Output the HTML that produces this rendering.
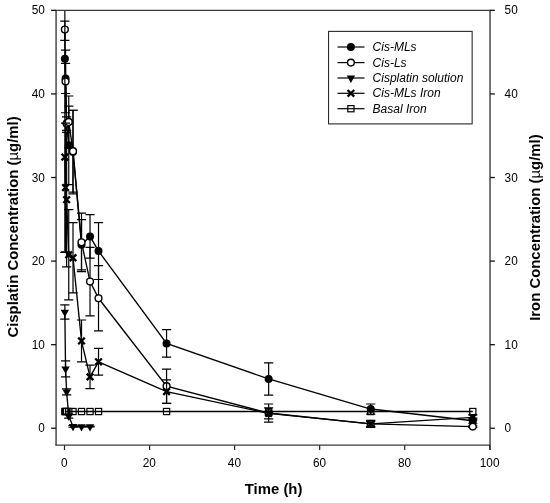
<!DOCTYPE html>
<html><head><meta charset="utf-8"><title>Chart</title>
<style>
html,body{margin:0;padding:0;background:#fff;}
svg{display:block;}
text{font-family:"Liberation Sans",sans-serif;fill:#000;}
.tk{font-size:12.2px;}
.ttl{font-size:14.9px;font-weight:bold;}
.ttl2{font-size:14.9px;font-weight:bold;}
.mu{font-weight:normal;}
.lg{font-size:12px;font-style:italic;}
</style></head><body>
<svg width="550" height="503" viewBox="0 0 550 503">
<defs><clipPath id="pc"><rect x="56.1" y="10.35" width="433.95" height="434.84999999999997"/></clipPath></defs>
<rect width="550" height="503" fill="#fff"/>
<g clip-path="url(#pc)">
<polyline points="64.85,58.83 65.56,78.47 66.63,123.60 68.75,145.33 73.01,152.02 81.51,244.79 90.02,236.43 98.52,251.06 166.57,343.42 268.64,378.94 370.72,409.03 472.79,420.73" fill="none" stroke="#000" stroke-width="1.35"/>
<line x1="65.56" y1="63.42" x2="65.56" y2="93.51" stroke="#000" stroke-width="1.2"/>
<line x1="60.96" y1="63.42" x2="70.16" y2="63.42" stroke="#000" stroke-width="1.2"/>
<line x1="60.96" y1="93.51" x2="70.16" y2="93.51" stroke="#000" stroke-width="1.2"/>
<line x1="66.63" y1="116.91" x2="66.63" y2="130.29" stroke="#000" stroke-width="1.2"/>
<line x1="62.03" y1="116.91" x2="71.23" y2="116.91" stroke="#000" stroke-width="1.2"/>
<line x1="62.03" y1="130.29" x2="71.23" y2="130.29" stroke="#000" stroke-width="1.2"/>
<line x1="68.75" y1="106.05" x2="68.75" y2="184.61" stroke="#000" stroke-width="1.2"/>
<line x1="64.15" y1="106.05" x2="73.35" y2="106.05" stroke="#000" stroke-width="1.2"/>
<line x1="64.15" y1="184.61" x2="73.35" y2="184.61" stroke="#000" stroke-width="1.2"/>
<line x1="73.01" y1="110.23" x2="73.01" y2="193.81" stroke="#000" stroke-width="1.2"/>
<line x1="68.41" y1="110.23" x2="77.61" y2="110.23" stroke="#000" stroke-width="1.2"/>
<line x1="68.41" y1="193.81" x2="77.61" y2="193.81" stroke="#000" stroke-width="1.2"/>
<line x1="81.51" y1="219.72" x2="81.51" y2="269.87" stroke="#000" stroke-width="1.2"/>
<line x1="76.91" y1="219.72" x2="86.11" y2="219.72" stroke="#000" stroke-width="1.2"/>
<line x1="76.91" y1="269.87" x2="86.11" y2="269.87" stroke="#000" stroke-width="1.2"/>
<line x1="90.02" y1="214.70" x2="90.02" y2="258.16" stroke="#000" stroke-width="1.2"/>
<line x1="85.42" y1="214.70" x2="94.62" y2="214.70" stroke="#000" stroke-width="1.2"/>
<line x1="85.42" y1="258.16" x2="94.62" y2="258.16" stroke="#000" stroke-width="1.2"/>
<line x1="98.52" y1="222.64" x2="98.52" y2="279.48" stroke="#000" stroke-width="1.2"/>
<line x1="93.92" y1="222.64" x2="103.12" y2="222.64" stroke="#000" stroke-width="1.2"/>
<line x1="93.92" y1="279.48" x2="103.12" y2="279.48" stroke="#000" stroke-width="1.2"/>
<line x1="166.57" y1="329.63" x2="166.57" y2="357.21" stroke="#000" stroke-width="1.2"/>
<line x1="161.97" y1="329.63" x2="171.17" y2="329.63" stroke="#000" stroke-width="1.2"/>
<line x1="161.97" y1="357.21" x2="171.17" y2="357.21" stroke="#000" stroke-width="1.2"/>
<line x1="268.64" y1="362.81" x2="268.64" y2="395.07" stroke="#000" stroke-width="1.2"/>
<line x1="264.04" y1="362.81" x2="273.24" y2="362.81" stroke="#000" stroke-width="1.2"/>
<line x1="264.04" y1="395.07" x2="273.24" y2="395.07" stroke="#000" stroke-width="1.2"/>
<line x1="370.72" y1="404.01" x2="370.72" y2="414.04" stroke="#000" stroke-width="1.2"/>
<line x1="366.12" y1="404.01" x2="375.32" y2="404.01" stroke="#000" stroke-width="1.2"/>
<line x1="366.12" y1="414.04" x2="375.32" y2="414.04" stroke="#000" stroke-width="1.2"/>
<line x1="472.79" y1="418.22" x2="472.79" y2="423.24" stroke="#000" stroke-width="1.2"/>
<line x1="468.19" y1="418.22" x2="477.39" y2="418.22" stroke="#000" stroke-width="1.2"/>
<line x1="468.19" y1="423.24" x2="477.39" y2="423.24" stroke="#000" stroke-width="1.2"/>
<circle cx="64.85" cy="58.83" r="4.0" fill="#000"/>
<circle cx="65.56" cy="78.47" r="4.0" fill="#000"/>
<circle cx="66.63" cy="123.60" r="4.0" fill="#000"/>
<circle cx="68.75" cy="145.33" r="4.0" fill="#000"/>
<circle cx="73.01" cy="152.02" r="4.0" fill="#000"/>
<circle cx="81.51" cy="244.79" r="4.0" fill="#000"/>
<circle cx="90.02" cy="236.43" r="4.0" fill="#000"/>
<circle cx="98.52" cy="251.06" r="4.0" fill="#000"/>
<circle cx="166.57" cy="343.42" r="4.0" fill="#000"/>
<circle cx="268.64" cy="378.94" r="4.0" fill="#000"/>
<circle cx="370.72" cy="409.03" r="4.0" fill="#000"/>
<circle cx="472.79" cy="420.73" r="4.0" fill="#000"/>
<polyline points="64.85,29.57 65.56,81.39 66.63,123.60 68.75,121.93 73.01,151.18 81.51,242.28 90.02,281.57 98.52,298.28 166.57,386.21 268.64,413.04 370.72,423.90 472.79,426.58" fill="none" stroke="#000" stroke-width="1.35"/>
<line x1="64.85" y1="21.05" x2="64.85" y2="40.44" stroke="#000" stroke-width="1.2"/>
<line x1="60.25" y1="21.05" x2="69.45" y2="21.05" stroke="#000" stroke-width="1.2"/>
<line x1="60.25" y1="40.44" x2="69.45" y2="40.44" stroke="#000" stroke-width="1.2"/>
<line x1="65.56" y1="50.05" x2="65.56" y2="112.74" stroke="#000" stroke-width="1.2"/>
<line x1="60.96" y1="50.05" x2="70.16" y2="50.05" stroke="#000" stroke-width="1.2"/>
<line x1="60.96" y1="112.74" x2="70.16" y2="112.74" stroke="#000" stroke-width="1.2"/>
<line x1="68.75" y1="96.02" x2="68.75" y2="147.84" stroke="#000" stroke-width="1.2"/>
<line x1="64.15" y1="96.02" x2="73.35" y2="96.02" stroke="#000" stroke-width="1.2"/>
<line x1="64.15" y1="147.84" x2="73.35" y2="147.84" stroke="#000" stroke-width="1.2"/>
<line x1="73.01" y1="110.23" x2="73.01" y2="192.14" stroke="#000" stroke-width="1.2"/>
<line x1="68.41" y1="110.23" x2="77.61" y2="110.23" stroke="#000" stroke-width="1.2"/>
<line x1="68.41" y1="192.14" x2="77.61" y2="192.14" stroke="#000" stroke-width="1.2"/>
<line x1="81.51" y1="213.03" x2="81.51" y2="271.54" stroke="#000" stroke-width="1.2"/>
<line x1="76.91" y1="213.03" x2="86.11" y2="213.03" stroke="#000" stroke-width="1.2"/>
<line x1="76.91" y1="271.54" x2="86.11" y2="271.54" stroke="#000" stroke-width="1.2"/>
<line x1="90.02" y1="247.30" x2="90.02" y2="315.83" stroke="#000" stroke-width="1.2"/>
<line x1="85.42" y1="247.30" x2="94.62" y2="247.30" stroke="#000" stroke-width="1.2"/>
<line x1="85.42" y1="315.83" x2="94.62" y2="315.83" stroke="#000" stroke-width="1.2"/>
<line x1="98.52" y1="265.69" x2="98.52" y2="330.88" stroke="#000" stroke-width="1.2"/>
<line x1="93.92" y1="265.69" x2="103.12" y2="265.69" stroke="#000" stroke-width="1.2"/>
<line x1="93.92" y1="330.88" x2="103.12" y2="330.88" stroke="#000" stroke-width="1.2"/>
<line x1="166.57" y1="369.08" x2="166.57" y2="403.34" stroke="#000" stroke-width="1.2"/>
<line x1="161.97" y1="369.08" x2="171.17" y2="369.08" stroke="#000" stroke-width="1.2"/>
<line x1="161.97" y1="403.34" x2="171.17" y2="403.34" stroke="#000" stroke-width="1.2"/>
<line x1="268.64" y1="404.01" x2="268.64" y2="422.07" stroke="#000" stroke-width="1.2"/>
<line x1="264.04" y1="404.01" x2="273.24" y2="404.01" stroke="#000" stroke-width="1.2"/>
<line x1="264.04" y1="422.07" x2="273.24" y2="422.07" stroke="#000" stroke-width="1.2"/>
<line x1="370.72" y1="421.40" x2="370.72" y2="426.41" stroke="#000" stroke-width="1.2"/>
<line x1="366.12" y1="421.40" x2="375.32" y2="421.40" stroke="#000" stroke-width="1.2"/>
<line x1="366.12" y1="426.41" x2="375.32" y2="426.41" stroke="#000" stroke-width="1.2"/>
<line x1="472.79" y1="425.74" x2="472.79" y2="427.41" stroke="#000" stroke-width="1.2"/>
<line x1="468.19" y1="425.74" x2="477.39" y2="425.74" stroke="#000" stroke-width="1.2"/>
<line x1="468.19" y1="427.41" x2="477.39" y2="427.41" stroke="#000" stroke-width="1.2"/>
<circle cx="64.85" cy="29.57" r="3.4" fill="#fff" stroke="#000" stroke-width="1.4"/>
<circle cx="65.56" cy="81.39" r="3.4" fill="#fff" stroke="#000" stroke-width="1.4"/>
<circle cx="66.63" cy="123.60" r="3.4" fill="#fff" stroke="#000" stroke-width="1.4"/>
<circle cx="68.75" cy="121.93" r="3.4" fill="#fff" stroke="#000" stroke-width="1.4"/>
<circle cx="73.01" cy="151.18" r="3.4" fill="#fff" stroke="#000" stroke-width="1.4"/>
<circle cx="81.51" cy="242.28" r="3.4" fill="#fff" stroke="#000" stroke-width="1.4"/>
<circle cx="90.02" cy="281.57" r="3.4" fill="#fff" stroke="#000" stroke-width="1.4"/>
<circle cx="98.52" cy="298.28" r="3.4" fill="#fff" stroke="#000" stroke-width="1.4"/>
<circle cx="166.57" cy="386.21" r="3.4" fill="#fff" stroke="#000" stroke-width="1.4"/>
<circle cx="268.64" cy="413.04" r="3.4" fill="#fff" stroke="#000" stroke-width="1.4"/>
<circle cx="370.72" cy="423.90" r="3.4" fill="#fff" stroke="#000" stroke-width="1.4"/>
<circle cx="472.79" cy="426.58" r="3.4" fill="#fff" stroke="#000" stroke-width="1.4"/>
<polyline points="64.85,312.07 65.56,368.91 66.63,391.89 68.75,416.13 73.01,426.41 81.51,426.58 90.02,426.58" fill="none" stroke="#000" stroke-width="1.35"/>
<line x1="64.85" y1="304.97" x2="64.85" y2="319.18" stroke="#000" stroke-width="1.2"/>
<line x1="60.25" y1="304.97" x2="69.45" y2="304.97" stroke="#000" stroke-width="1.2"/>
<line x1="60.25" y1="319.18" x2="69.45" y2="319.18" stroke="#000" stroke-width="1.2"/>
<line x1="65.56" y1="360.97" x2="65.56" y2="376.85" stroke="#000" stroke-width="1.2"/>
<line x1="60.96" y1="360.97" x2="70.16" y2="360.97" stroke="#000" stroke-width="1.2"/>
<line x1="60.96" y1="376.85" x2="70.16" y2="376.85" stroke="#000" stroke-width="1.2"/>
<line x1="66.63" y1="388.97" x2="66.63" y2="394.82" stroke="#000" stroke-width="1.2"/>
<line x1="62.03" y1="388.97" x2="71.23" y2="388.97" stroke="#000" stroke-width="1.2"/>
<line x1="62.03" y1="394.82" x2="71.23" y2="394.82" stroke="#000" stroke-width="1.2"/>
<line x1="68.75" y1="414.04" x2="68.75" y2="418.22" stroke="#000" stroke-width="1.2"/>
<line x1="64.15" y1="414.04" x2="73.35" y2="414.04" stroke="#000" stroke-width="1.2"/>
<line x1="64.15" y1="418.22" x2="73.35" y2="418.22" stroke="#000" stroke-width="1.2"/>
<line x1="73.01" y1="425.58" x2="73.01" y2="427.25" stroke="#000" stroke-width="1.2"/>
<line x1="68.41" y1="425.58" x2="77.61" y2="425.58" stroke="#000" stroke-width="1.2"/>
<line x1="68.41" y1="427.25" x2="77.61" y2="427.25" stroke="#000" stroke-width="1.2"/>
<line x1="81.51" y1="426.16" x2="81.51" y2="427.00" stroke="#000" stroke-width="1.2"/>
<line x1="76.91" y1="426.16" x2="86.11" y2="426.16" stroke="#000" stroke-width="1.2"/>
<line x1="76.91" y1="427.00" x2="86.11" y2="427.00" stroke="#000" stroke-width="1.2"/>
<line x1="90.02" y1="426.16" x2="90.02" y2="427.00" stroke="#000" stroke-width="1.2"/>
<line x1="85.42" y1="426.16" x2="94.62" y2="426.16" stroke="#000" stroke-width="1.2"/>
<line x1="85.42" y1="427.00" x2="94.62" y2="427.00" stroke="#000" stroke-width="1.2"/>
<polygon points="60.65,309.67 69.05,309.67 64.85,316.97" fill="#000"/>
<polygon points="61.36,366.51 69.76,366.51 65.56,373.81" fill="#000"/>
<polygon points="62.43,389.49 70.83,389.49 66.63,396.79" fill="#000"/>
<polygon points="64.55,413.73 72.95,413.73 68.75,421.03" fill="#000"/>
<polygon points="68.81,424.01 77.21,424.01 73.01,431.31" fill="#000"/>
<polygon points="77.31,424.18 85.71,424.18 81.51,431.48" fill="#000"/>
<polygon points="85.82,424.18 94.22,424.18 90.02,431.48" fill="#000"/>
<polyline points="64.85,157.03 65.56,187.54 66.63,199.66 68.75,254.82 73.01,257.75 81.51,340.91 90.02,376.85 98.52,361.80 166.57,391.64 268.64,413.37 370.72,423.90 472.79,417.38" fill="none" stroke="#000" stroke-width="1.35"/>
<line x1="64.85" y1="6.59" x2="64.85" y2="252.31" stroke="#000" stroke-width="1.2"/>
<line x1="60.25" y1="6.59" x2="69.45" y2="6.59" stroke="#000" stroke-width="1.2"/>
<line x1="60.25" y1="252.31" x2="69.45" y2="252.31" stroke="#000" stroke-width="1.2"/>
<line x1="65.56" y1="123.18" x2="65.56" y2="251.90" stroke="#000" stroke-width="1.2"/>
<line x1="60.96" y1="123.18" x2="70.16" y2="123.18" stroke="#000" stroke-width="1.2"/>
<line x1="60.96" y1="251.90" x2="70.16" y2="251.90" stroke="#000" stroke-width="1.2"/>
<line x1="66.63" y1="132.38" x2="66.63" y2="266.94" stroke="#000" stroke-width="1.2"/>
<line x1="62.03" y1="132.38" x2="71.23" y2="132.38" stroke="#000" stroke-width="1.2"/>
<line x1="62.03" y1="266.94" x2="71.23" y2="266.94" stroke="#000" stroke-width="1.2"/>
<line x1="68.75" y1="209.69" x2="68.75" y2="299.95" stroke="#000" stroke-width="1.2"/>
<line x1="64.15" y1="209.69" x2="73.35" y2="209.69" stroke="#000" stroke-width="1.2"/>
<line x1="64.15" y1="299.95" x2="73.35" y2="299.95" stroke="#000" stroke-width="1.2"/>
<line x1="73.01" y1="222.64" x2="73.01" y2="292.85" stroke="#000" stroke-width="1.2"/>
<line x1="68.41" y1="222.64" x2="77.61" y2="222.64" stroke="#000" stroke-width="1.2"/>
<line x1="68.41" y1="292.85" x2="77.61" y2="292.85" stroke="#000" stroke-width="1.2"/>
<line x1="81.51" y1="320.01" x2="81.51" y2="361.80" stroke="#000" stroke-width="1.2"/>
<line x1="76.91" y1="320.01" x2="86.11" y2="320.01" stroke="#000" stroke-width="1.2"/>
<line x1="76.91" y1="361.80" x2="86.11" y2="361.80" stroke="#000" stroke-width="1.2"/>
<line x1="90.02" y1="365.15" x2="90.02" y2="388.55" stroke="#000" stroke-width="1.2"/>
<line x1="85.42" y1="365.15" x2="94.62" y2="365.15" stroke="#000" stroke-width="1.2"/>
<line x1="85.42" y1="388.55" x2="94.62" y2="388.55" stroke="#000" stroke-width="1.2"/>
<line x1="98.52" y1="348.43" x2="98.52" y2="375.18" stroke="#000" stroke-width="1.2"/>
<line x1="93.92" y1="348.43" x2="103.12" y2="348.43" stroke="#000" stroke-width="1.2"/>
<line x1="93.92" y1="375.18" x2="103.12" y2="375.18" stroke="#000" stroke-width="1.2"/>
<line x1="166.57" y1="379.94" x2="166.57" y2="403.34" stroke="#000" stroke-width="1.2"/>
<line x1="161.97" y1="379.94" x2="171.17" y2="379.94" stroke="#000" stroke-width="1.2"/>
<line x1="161.97" y1="403.34" x2="171.17" y2="403.34" stroke="#000" stroke-width="1.2"/>
<line x1="268.64" y1="407.94" x2="268.64" y2="418.81" stroke="#000" stroke-width="1.2"/>
<line x1="264.04" y1="407.94" x2="273.24" y2="407.94" stroke="#000" stroke-width="1.2"/>
<line x1="264.04" y1="418.81" x2="273.24" y2="418.81" stroke="#000" stroke-width="1.2"/>
<line x1="370.72" y1="420.39" x2="370.72" y2="427.41" stroke="#000" stroke-width="1.2"/>
<line x1="366.12" y1="420.39" x2="375.32" y2="420.39" stroke="#000" stroke-width="1.2"/>
<line x1="366.12" y1="427.41" x2="375.32" y2="427.41" stroke="#000" stroke-width="1.2"/>
<line x1="472.79" y1="414.88" x2="472.79" y2="419.89" stroke="#000" stroke-width="1.2"/>
<line x1="468.19" y1="414.88" x2="477.39" y2="414.88" stroke="#000" stroke-width="1.2"/>
<line x1="468.19" y1="419.89" x2="477.39" y2="419.89" stroke="#000" stroke-width="1.2"/>
<path d="M61.55 153.73L68.15 160.33M61.55 160.33L68.15 153.73" stroke="#000" stroke-width="2.35" fill="none"/>
<path d="M62.26 184.24L68.86 190.84M62.26 190.84L68.86 184.24" stroke="#000" stroke-width="2.35" fill="none"/>
<path d="M63.33 196.36L69.93 202.96M63.33 202.96L69.93 196.36" stroke="#000" stroke-width="2.35" fill="none"/>
<path d="M65.45 251.52L72.05 258.12M65.45 258.12L72.05 251.52" stroke="#000" stroke-width="2.35" fill="none"/>
<path d="M69.71 254.45L76.31 261.05M69.71 261.05L76.31 254.45" stroke="#000" stroke-width="2.35" fill="none"/>
<path d="M78.21 337.61L84.81 344.21M78.21 344.21L84.81 337.61" stroke="#000" stroke-width="2.35" fill="none"/>
<path d="M86.72 373.55L93.32 380.15M86.72 380.15L93.32 373.55" stroke="#000" stroke-width="2.35" fill="none"/>
<path d="M95.22 358.50L101.82 365.10M95.22 365.10L101.82 358.50" stroke="#000" stroke-width="2.35" fill="none"/>
<path d="M163.27 388.34L169.87 394.94M163.27 394.94L169.87 388.34" stroke="#000" stroke-width="2.35" fill="none"/>
<path d="M265.34 410.07L271.94 416.67M265.34 416.67L271.94 410.07" stroke="#000" stroke-width="2.35" fill="none"/>
<path d="M367.42 420.60L374.02 427.20M367.42 427.20L374.02 420.60" stroke="#000" stroke-width="2.35" fill="none"/>
<path d="M469.49 414.08L476.09 420.68M469.49 420.68L476.09 414.08" stroke="#000" stroke-width="2.35" fill="none"/>
<polyline points="64.85,411.53 65.56,411.53 66.63,411.53 68.75,411.53 73.01,411.53 81.51,411.53 90.02,411.53 98.52,411.53 166.57,411.53 268.64,411.53 370.72,411.53 472.79,411.53" fill="none" stroke="#000" stroke-width="1.35"/>
<rect x="61.75" y="408.43" width="6.2" height="6.2" fill="none" stroke="#000" stroke-width="1.2"/>
<rect x="62.46" y="408.43" width="6.2" height="6.2" fill="none" stroke="#000" stroke-width="1.2"/>
<rect x="63.53" y="408.43" width="6.2" height="6.2" fill="none" stroke="#000" stroke-width="1.2"/>
<rect x="65.65" y="408.43" width="6.2" height="6.2" fill="none" stroke="#000" stroke-width="1.2"/>
<rect x="69.91" y="408.43" width="6.2" height="6.2" fill="none" stroke="#000" stroke-width="1.2"/>
<rect x="78.41" y="408.43" width="6.2" height="6.2" fill="none" stroke="#000" stroke-width="1.2"/>
<rect x="86.92" y="408.43" width="6.2" height="6.2" fill="none" stroke="#000" stroke-width="1.2"/>
<rect x="95.42" y="408.43" width="6.2" height="6.2" fill="none" stroke="#000" stroke-width="1.2"/>
<rect x="163.47" y="408.43" width="6.2" height="6.2" fill="none" stroke="#000" stroke-width="1.2"/>
<rect x="265.54" y="408.43" width="6.2" height="6.2" fill="none" stroke="#000" stroke-width="1.2"/>
<rect x="367.62" y="408.43" width="6.2" height="6.2" fill="none" stroke="#000" stroke-width="1.2"/>
<rect x="469.69" y="408.43" width="6.2" height="6.2" fill="none" stroke="#000" stroke-width="1.2"/>
</g>
<line x1="56.10" y1="10.35" x2="56.10" y2="445.20" stroke="#686868" stroke-width="1.8"/>
<line x1="490.05" y1="10.35" x2="490.05" y2="450.00" stroke="#686868" stroke-width="1.8"/>
<line x1="55.30" y1="10.35" x2="490.85" y2="10.35" stroke="#3a3a3a" stroke-width="1.1"/>
<line x1="55.30" y1="445.10" x2="490.05" y2="445.10" stroke="#3a3a3a" stroke-width="1.2"/>
<line x1="51.10" y1="428.25" x2="56.10" y2="428.25" stroke="#111" stroke-width="1.3"/>
<line x1="490.05" y1="428.25" x2="494.85" y2="428.25" stroke="#111" stroke-width="1.3"/>
<text transform="translate(44.9,432.25) scale(0.97,1)" text-anchor="end" class="tk">0</text>
<text transform="translate(504.6,432.25) scale(0.97,1)" text-anchor="start" class="tk">0</text>
<line x1="51.10" y1="344.67" x2="56.10" y2="344.67" stroke="#111" stroke-width="1.3"/>
<line x1="490.05" y1="344.67" x2="494.85" y2="344.67" stroke="#111" stroke-width="1.3"/>
<text transform="translate(44.9,348.67) scale(0.97,1)" text-anchor="end" class="tk">10</text>
<text transform="translate(504.6,348.67) scale(0.97,1)" text-anchor="start" class="tk">10</text>
<line x1="51.10" y1="261.09" x2="56.10" y2="261.09" stroke="#111" stroke-width="1.3"/>
<line x1="490.05" y1="261.09" x2="494.85" y2="261.09" stroke="#111" stroke-width="1.3"/>
<text transform="translate(44.9,265.09) scale(0.97,1)" text-anchor="end" class="tk">20</text>
<text transform="translate(504.6,265.09) scale(0.97,1)" text-anchor="start" class="tk">20</text>
<line x1="51.10" y1="177.51" x2="56.10" y2="177.51" stroke="#111" stroke-width="1.3"/>
<line x1="490.05" y1="177.51" x2="494.85" y2="177.51" stroke="#111" stroke-width="1.3"/>
<text transform="translate(44.9,181.51) scale(0.97,1)" text-anchor="end" class="tk">30</text>
<text transform="translate(504.6,181.51) scale(0.97,1)" text-anchor="start" class="tk">30</text>
<line x1="51.10" y1="93.93" x2="56.10" y2="93.93" stroke="#111" stroke-width="1.3"/>
<line x1="490.05" y1="93.93" x2="494.85" y2="93.93" stroke="#111" stroke-width="1.3"/>
<text transform="translate(44.9,97.93) scale(0.97,1)" text-anchor="end" class="tk">40</text>
<text transform="translate(504.6,97.93) scale(0.97,1)" text-anchor="start" class="tk">40</text>
<line x1="51.10" y1="10.35" x2="56.10" y2="10.35" stroke="#111" stroke-width="1.3"/>
<line x1="490.05" y1="10.35" x2="494.85" y2="10.35" stroke="#111" stroke-width="1.3"/>
<text transform="translate(44.9,14.35) scale(0.97,1)" text-anchor="end" class="tk">50</text>
<text transform="translate(504.6,14.35) scale(0.97,1)" text-anchor="start" class="tk">50</text>
<line x1="64.50" y1="445.20" x2="64.50" y2="450.00" stroke="#222" stroke-width="1.2"/>
<text transform="translate(64.30,466.6) scale(0.97,1)" text-anchor="middle" class="tk">0</text>
<line x1="149.56" y1="445.20" x2="149.56" y2="450.00" stroke="#222" stroke-width="1.2"/>
<text transform="translate(149.36,466.6) scale(0.97,1)" text-anchor="middle" class="tk">20</text>
<line x1="234.62" y1="445.20" x2="234.62" y2="450.00" stroke="#222" stroke-width="1.2"/>
<text transform="translate(234.42,466.6) scale(0.97,1)" text-anchor="middle" class="tk">40</text>
<line x1="319.68" y1="445.20" x2="319.68" y2="450.00" stroke="#222" stroke-width="1.2"/>
<text transform="translate(319.48,466.6) scale(0.97,1)" text-anchor="middle" class="tk">60</text>
<line x1="404.74" y1="445.20" x2="404.74" y2="450.00" stroke="#222" stroke-width="1.2"/>
<text transform="translate(404.54,466.6) scale(0.97,1)" text-anchor="middle" class="tk">80</text>
<line x1="489.80" y1="445.20" x2="489.80" y2="450.00" stroke="#222" stroke-width="1.2"/>
<text transform="translate(489.60,466.6) scale(0.97,1)" text-anchor="middle" class="tk">100</text>
<text x="273.6" y="494.1" text-anchor="middle" class="ttl">Time (h)</text>
<text transform="translate(17.7,227.0) rotate(-90)" text-anchor="middle" class="ttl">Cisplatin Concentration (<tspan class="mu">µ</tspan>g/ml)</text>
<text transform="translate(539.6,227.6) rotate(-90)" text-anchor="middle" class="ttl2">Iron Concentration (<tspan class="mu">µ</tspan>g/ml)</text>
<rect x="328.55" y="31.4" width="143.6" height="92.5" fill="#fff" stroke="#2a2a2a" stroke-width="1.1"/>
<line x1="337.50" y1="47.00" x2="364.50" y2="47.00" stroke="#000" stroke-width="1.2"/>
<circle cx="350.90" cy="47.00" r="4.0" fill="#000"/>
<text x="372.6" y="51.00" class="lg">Cis-MLs</text>
<line x1="337.50" y1="62.60" x2="364.50" y2="62.60" stroke="#000" stroke-width="1.2"/>
<circle cx="350.90" cy="62.60" r="3.4" fill="#fff" stroke="#000" stroke-width="1.4"/>
<text x="372.6" y="66.60" class="lg">Cis-Ls</text>
<line x1="337.50" y1="78.00" x2="364.50" y2="78.00" stroke="#000" stroke-width="1.2"/>
<polygon points="346.70,75.60 355.10,75.60 350.90,82.90" fill="#000"/>
<text x="372.6" y="82.00" class="lg">Cisplatin solution</text>
<line x1="337.50" y1="93.30" x2="364.50" y2="93.30" stroke="#000" stroke-width="1.2"/>
<path d="M347.60 90.00L354.20 96.60M347.60 96.60L354.20 90.00" stroke="#000" stroke-width="2.35" fill="none"/>
<text x="372.6" y="97.30" class="lg">Cis-MLs Iron</text>
<line x1="337.50" y1="108.70" x2="364.50" y2="108.70" stroke="#000" stroke-width="1.2"/>
<rect x="347.80" y="105.60" width="6.2" height="6.2" fill="none" stroke="#000" stroke-width="1.2"/>
<text x="372.6" y="112.70" class="lg">Basal Iron</text>
</svg>
</body></html>
